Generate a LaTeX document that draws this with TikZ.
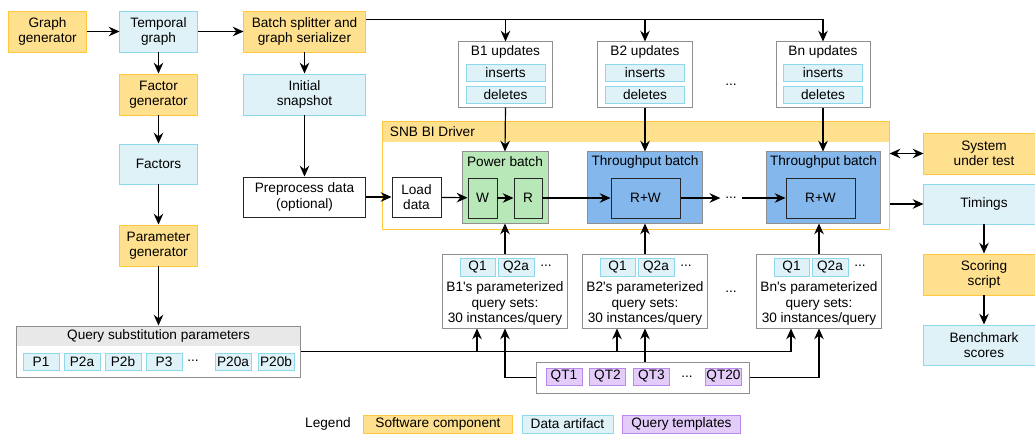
\documentclass[tikz,border=0pt]{standalone}
\usepackage{fontspec}
\setmainfont{Liberation Sans}
\usetikzlibrary{arrows.meta}

\definecolor{softfill}{HTML}{FFE08E}
\definecolor{softline}{HTML}{FFC83D}
\definecolor{datafill}{HTML}{DFF2F8}
\definecolor{dataline}{HTML}{8ED8EC}
\definecolor{tmplfill}{HTML}{E3CCFA}
\definecolor{tmplline}{HTML}{B98AEB}
\definecolor{powerfill}{HTML}{B8E8B8}
\definecolor{tputfill}{HTML}{84B7EB}
\definecolor{grpline}{HTML}{8F8F8F}
\definecolor{hdrfill}{HTML}{E8E8E8}

\tikzset{
  box/.style={draw, align=center, inner sep=0pt, line width=0.7pt},
  soft/.style={box, draw=softline, fill=softfill},
  data/.style={box, draw=dataline, fill=datafill},
  tmpl/.style={box, draw=tmplline, fill=tmplfill},
  plainbox/.style={box, draw=black!85, fill=white},
  grpbox/.style={box, draw=grpline, fill=white},
  inner/.style={box, draw=black!85},
  tip/.style={Stealth[length=0.27cm,width=0.24cm,inset=0.09cm]},
  arr/.style={-{Stealth[length=0.27cm,width=0.24cm,inset=0.09cm]}, line width=0.85pt},
  dblarr/.style={{Stealth[length=0.27cm,width=0.24cm,inset=0.09cm]}-{Stealth[length=0.27cm,width=0.24cm,inset=0.09cm]}, line width=0.85pt},
}

\begin{document}
\begin{tikzpicture}[x=0.025cm, y=-0.025cm, font=\fontsize{9.7}{10.9}\selectfont]

    \useasboundingbox (0,0) rectangle (1035,434);

    % Generator column
    \node[soft, minimum width=1.925cm, minimum height=1.025cm] (ggen) at (47.5,31.5) {Graph\\generator};
    \node[data, minimum width=1.925cm, minimum height=1.025cm] (tgraph) at (158.5,31.5) {Temporal\\graph};
    \node[soft, minimum width=1.925cm, minimum height=1.025cm] (fgen) at (158.5,94.5) {Factor\\generator};
    \node[data, minimum width=1.925cm, minimum height=1cm] (factors) at (158.5,164) {Factors};
    \node[soft, minimum width=1.925cm, minimum height=1.025cm] (pgen) at (158.5,245.5) {Parameter\\generator};

    \draw[arr] (ggen) -- (tgraph);
    \draw[arr] (tgraph) -- (fgen);
    \draw[arr] (fgen) -- (factors);
    \draw[arr] (factors) -- (pgen);

    % Splitter column
    \node[soft, minimum width=3.025cm, minimum height=1.025cm] (split) at (304.5,31.5) {Batch splitter and\\graph serializer};
    \node[data, minimum width=3.025cm, minimum height=1.025cm] (snap) at (304.5,94.5) {Initial\\snapshot};
    \node[plainbox, minimum width=3.025cm, minimum height=1cm] (pre) at (304.5,197) {Preprocess data\\(optional)};

    \draw[arr] (tgraph) -- (split);
    \draw[arr] (split) -- (snap);
    \draw[arr] (snap) -- (pre);

    % Update batches
    \foreach \n/\x in {1/505.5, 2/645, n/823}{
        \node[grpbox, minimum width=2.35cm, minimum height=1.625cm] (upd\n) at (\x,74.5) {};
        \node at (\x,52) {B\n{} updates};
        \node[data, minimum width=1.975cm, minimum height=0.425cm] at (\x,72.5) {inserts};
        \node[data, minimum width=1.975cm, minimum height=0.425cm] at (\x,94.5) {deletes};
    }
    \node (udots) at (731,85) {...};

    \coordinate (tl) at ([yshift=-0.225cm]split.north east);
    \draw[arr] (tl) -| (updn.north);
    \draw[arr] (tl -| upd1.north) -- (upd1.north);
    \draw[arr] (tl -| upd2.north) -- (upd2.north);

    % SNB BI Driver
    \node[box, draw=softline, fill=white, minimum width=12.65cm, minimum height=2.675cm,
        path picture={\fill[softfill] (path picture bounding box.north west) rectangle ([yshift=-0.5cm]path picture bounding box.north east);}]
        (driver) at (636,175.5) {};
    \node[anchor=west] at (385,132) {SNB BI Driver};

    \node[plainbox, minimum width=1.225cm, minimum height=1cm] (load) at (416.5,197) {Load\\data};

    \node[box, draw=grpline, fill=powerfill, minimum width=2.15cm, minimum height=1.775cm] (power) at (505,187.5) {};
    \node at (505,162) {Power batch};
    \node[inner, fill=powerfill, minimum width=0.725cm, minimum height=1cm] (w) at (482.5,198) {W};
    \node[inner, fill=powerfill, minimum width=0.7cm, minimum height=1cm] (r) at (528,198) {R};

    \node[box, draw=grpline, fill=tputfill, minimum width=2.85cm, minimum height=1.775cm] (tp1) at (645,187.5) {};
    \node at (645,162) {Throughput batch};
    \node[inner, fill=tputfill, minimum width=1.725cm, minimum height=1cm] (rw1) at (645.5,198) {R+W};

    \node (bdots) at (731,198) {...};

    \node[box, draw=grpline, fill=tputfill, minimum width=2.825cm, minimum height=1.775cm] (tp2) at (823.5,187.5) {};
    \node at (823.5,162) {Throughput batch};
    \node[inner, fill=tputfill, minimum width=1.725cm, minimum height=1cm] (rw2) at (820.5,198) {R+W};

    \draw[arr] (pre) -- (load);
    \draw[arr] (load) -- (w);
    \draw[arr] (w) -- (r);
    \draw[arr] (r) -- (rw1);
    \draw[arr] (rw1) -- (bdots);
    \draw[arr] (bdots) -- (rw2);

    \draw[arr] (upd1.south) -- (power.north);
    \draw[arr] (upd2.south) -- (tp1.north);
    \draw[arr] (updn.south) -- (updn.south |- tp2.north);

    % System under test and scoring
    \node[soft, minimum width=3cm, minimum height=1.025cm] (sut) at (984,153.5) {System\\under test};
    \node[data, minimum width=3cm, minimum height=1cm] (tim) at (984,204) {Timings};
    \node[soft, minimum width=3cm, minimum height=1.025cm] (score) at (984,274.5) {Scoring\\script};
    \node[data, minimum width=3cm, minimum height=1cm] (bench) at (984,345) {Benchmark\\scores};

    \draw[dblarr] (driver.east |- sut) -- (sut.west);
    \draw[arr] (driver.east |- tim) -- (tim.west);
    \draw[arr] (tim) -- (score);
    \draw[arr] (score) -- (bench);

    % Query substitution parameters
    \node[grpbox, minimum width=7.075cm, minimum height=1.275cm,
        path picture={\fill[hdrfill] (path picture bounding box.north west) rectangle ([yshift=-0.5cm]path picture bounding box.north east);}]
        (qsp) at (158.5,351.5) {};
    \node at (158.5,336) {Query substitution parameters};
    \foreach \p/\x in {P1/41, P2a/82, P2b/123, P3/164, P20a/233, P20b/276}
        \node[data, minimum width=0.9cm, minimum height=0.425cm] at (\x,361.5) {\p};
    \node (pdots) at (193,361) {...};

    \draw[arr] (pgen) -- (qsp);

    % Parameterized query sets
    \foreach \n/\x in {1/505, 2/645, n/819}{
        \node[grpbox, minimum width=3.125cm, minimum height=1.85cm] (qs\n) at (\x,291) {};
        \node[data, minimum width=0.875cm, minimum height=0.45cm] at (\x-27.5,267) {Q1};
        \node[data, minimum width=0.9cm, minimum height=0.45cm] at (\x+11,267) {Q2a};
        \node at (\x+41,266) {...};
        \node[align=center] at (\x,303.5) {B\n\textquotesingle s parameterized\\query sets:\\30 instances/query};
        \coordinate (pa\n) at ([xshift=-0.7cm]qs\n.south);
    }
    \node (qdots) at (731,292) {...};

    \draw[arr] (qs1.north) -- (power.south);
    \draw[arr] (qs2.north) -- (tp1.south);
    \draw[arr] (qsn.north) -- (qsn.north |- tp2.south);

    \draw[arr] (qsp.east) -| (pan);
    \draw[arr] (qsp.east -| pa1) -- (pa1);
    \draw[arr] (qsp.east -| pa2) -- (pa2);

    % Query templates
    \node[grpbox, minimum width=5.3cm, minimum height=0.775cm] (qt) at (643,377.5) {};
    \foreach \q/\x in {QT1/564, QT2/607.5, QT3/651.5, QT20/723.5}
        \node[tmpl, minimum width=0.9cm, minimum height=0.425cm] at (\x,376.5) {\q};
    \node (tdots) at (687,377) {...};

    \draw[arr] (qt.west) -| (qs1.south);
    \draw[arr] (qt.north -| qs2.south) -- (qs2.south);
    \draw[arr] (qt.east) -| (qsn.south);

    % Legend
    \node (legend) at (328,424) {Legend};
    \node[soft, minimum width=3.7cm, minimum height=0.45cm] at (438,424) {Software component};
    \node[data, minimum width=2.275cm, minimum height=0.45cm] at (567.5,424) {Data artifact};
    \node[tmpl, minimum width=2.925cm, minimum height=0.45cm] at (681.5,424) {Query templates};

\end{tikzpicture}
\end{document}
